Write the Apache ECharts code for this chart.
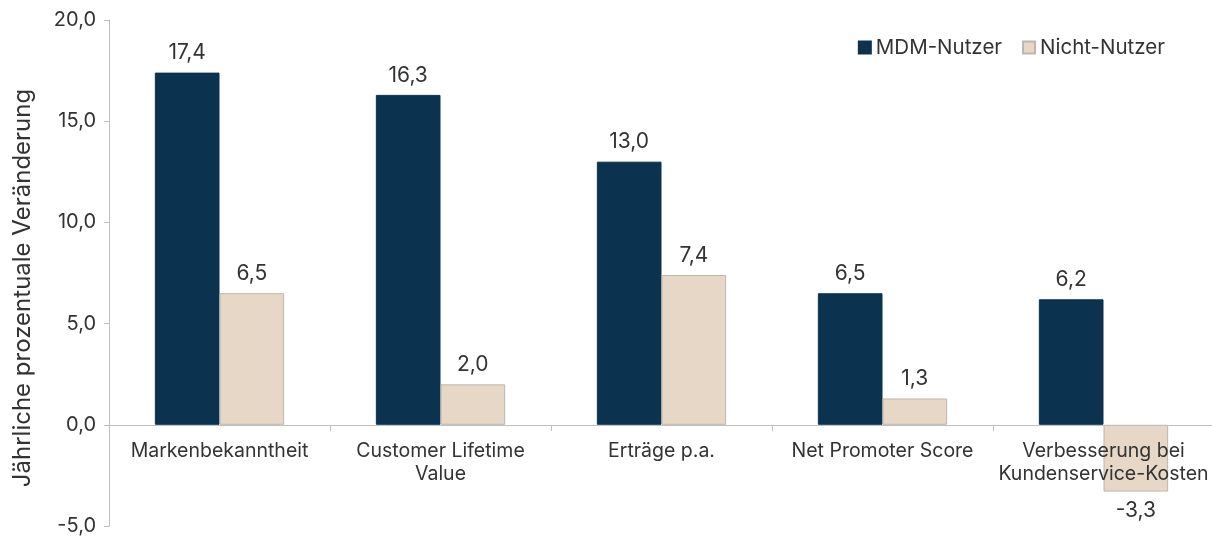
<!DOCTYPE html>
<html>
<head>
<meta charset="utf-8">
<script src="https://cdn.jsdelivr.net/npm/echarts@6/dist/echarts.min.js"></script>
<style>
html,body{margin:0;padding:0;background:#fff;}
#chart{width:1212px;height:538px;}
</style>
</head>
<body>
<div id="chart"></div>
<script>
// Daten
var categories = ['Markenbekanntheit', 'Customer Lifetime\nValue', 'Erträge p.a.', 'Net Promoter Score', 'Verbesserung bei\nKundenservice-Kosten'];
var mdmNutzer = [17.4, 16.3, 13.0, 6.5, 6.2];
var nichtNutzer = [6.5, 2.0, 7.4, 1.3, -3.3];
var seriesNames = ['MDM-Nutzer', 'Nicht-Nutzer'];

var fontName = 'Inter, "Noto Sans", sans-serif';
var textColor = '#333333';

function fmt(v){
    return v.toFixed(1).replace('.', ',');
}
// negative Werte: Beschriftung unter dem Balken
function toItems(arr){
    return arr.map(function(v){
        return {value: v, label: {position: v < 0 ? 'bottom' : 'top'}};
    });
}

var myChart = echarts.init(document.getElementById('chart'));
var option = {
    backgroundColor: '#ffffff',
    textStyle: {fontFamily: fontName, color: textColor},
    legend: {
        top: 32,
        right: 42,
        itemWidth: 12,
        itemHeight: 12,
        itemGap: 20,
        icon: 'rect',
        textStyle: {fontSize: 20.5, color: textColor, fontFamily: fontName},
        data: seriesNames
    },
    grid: {left: 109, right: -2, top: 20, bottom: 12, outerBoundsMode: 'none'},
    xAxis: {
        type: 'category',
        data: categories,
        z: 10, // Beschriftung über den Balken
        // Achse auf Höhe der Nulllinie (Beschriftung wandert sonst nach unten)
        position: 'bottom',
        offset: -101,
        axisLine: {onZero: false, lineStyle: {color: '#bfbfbf', width: 1}},
        axisTick: {show: true, length: 6, lineStyle: {color: '#bfbfbf'}},
        axisLabel: {
            interval: 0,
            fontSize: 19.5,
            color: textColor,
            fontFamily: fontName,
            margin: 15,
            lineHeight: 23
        }
    },
    yAxis: {
        type: 'value',
        min: -5,
        max: 20,
        interval: 5,
        name: 'Jährliche prozentuale Veränderung',
        nameLocation: 'middle',
        nameGap: 74,
        nameTextStyle: {fontSize: 24, color: textColor, fontFamily: fontName, padding: [0, 30, 0, 0]},
        axisLine: {show: true, lineStyle: {color: '#bfbfbf'}},
        axisTick: {show: true, length: 5, lineStyle: {color: '#bfbfbf'}},
        splitLine: {show: false},
        axisLabel: {
            fontSize: 20,
            color: textColor,
            fontFamily: fontName,
            margin: 13,
            formatter: function(v){ return fmt(v); }
        }
    },
    series: [
        {
            name: seriesNames[0],
            type: 'bar',
            data: toItems(mdmNutzer),
            barGap: '0%',
            barCategoryGap: '41.5%',
            itemStyle: {color: '#0b3350', borderColor: '#0b3350', borderWidth: 1},
            label: {
                show: true,
                distance: 9,
                fontSize: 21,
                color: textColor,
                fontFamily: fontName,
                formatter: function(p){ return fmt(p.value); }
            }
        },
        {
            name: seriesNames[1],
            type: 'bar',
            data: toItems(nichtNutzer),
            barGap: '0%',
            barCategoryGap: '41.5%',
            itemStyle: {color: '#e6d7c6', borderColor: '#bdb6ad', borderWidth: 1},
            label: {
                show: true,
                distance: 9,
                fontSize: 21,
                color: textColor,
                fontFamily: fontName,
                formatter: function(p){ return fmt(p.value); }
            }
        }
    ]
};
myChart.setOption(option);
</script>
</body>
</html>
